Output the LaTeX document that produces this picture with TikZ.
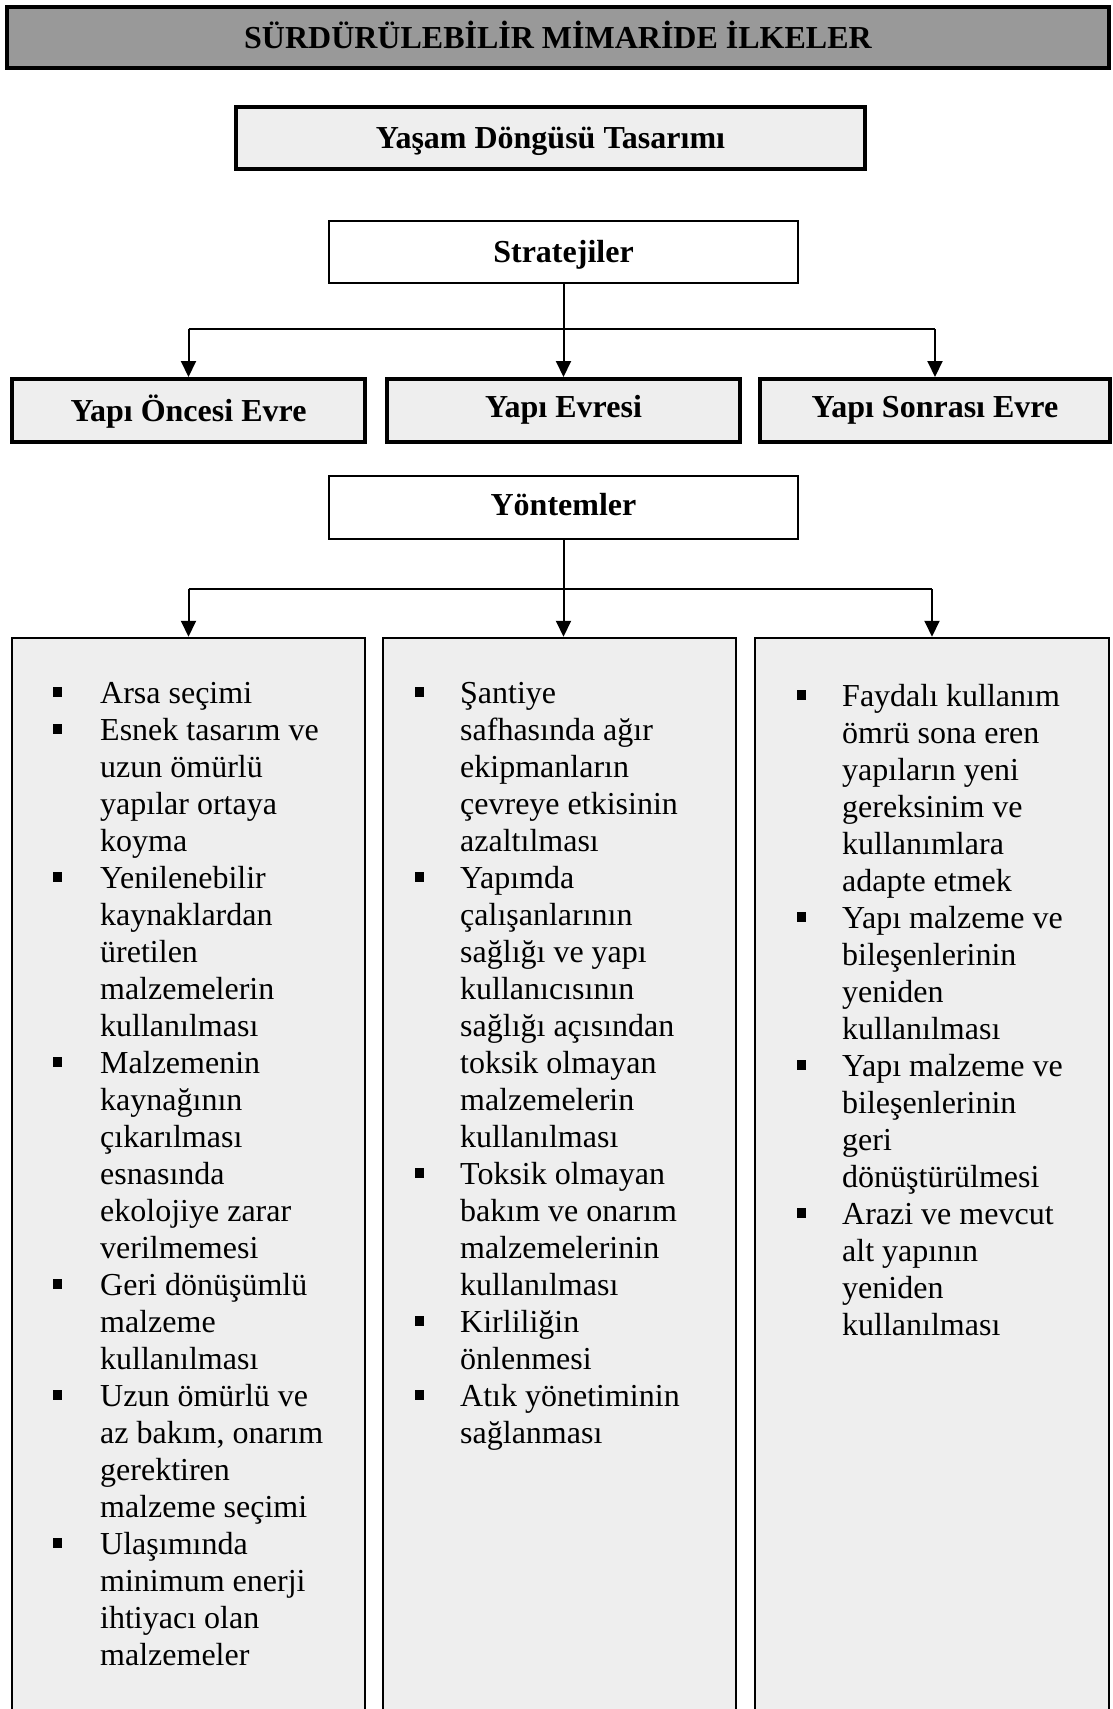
\documentclass[tikz,border=0pt]{standalone}
\usepackage{fontspec}
\setmainfont{Liberation Serif}
\usetikzlibrary{arrows.meta}
\definecolor{titlegray}{HTML}{999999}
\definecolor{lightbox}{HTML}{EEEEEE}
\newcommand\bulletmark{\rule[6pt]{9pt}{10pt}}
\tikzset{
  hbox/.style={draw=black, rectangle, inner sep=0pt, text height=21pt, text depth=0pt,
    font=\fontsize{32}{37}\selectfont\bfseries},
  thickbox/.style={hbox, line width=4pt, fill=lightbox},
  thinbox/.style={hbox, line width=2pt, fill=white},
  colbox/.style={draw=black, rectangle, line width=2.5pt, fill=lightbox, inner sep=0pt},
  listtext/.style={inner sep=0pt, anchor=base west, font=\fontsize{32}{37}\selectfont},
  plain/.style={line width=2pt, draw=black},
  conn/.style={plain, -{Triangle[width=15pt,length=16pt]}},
}
\begin{document}
\begin{tikzpicture}[x=1pt,y=-1pt]
\useasboundingbox (0,0) rectangle (1112,1709);
\clip (0,0) rectangle (1112,1709);
% title
\node[hbox, line width=4pt, fill=titlegray, minimum width=1102pt, minimum height=61pt] (title) at (558,37.5) {SÜRDÜRÜLEBİLİR MİMARİDE İLKELER};
\node[thickbox, minimum width=629pt, minimum height=62pt, yshift=2pt] (life) at (550.5,140) {Yaşam Döngüsü Tasarımı};
% strategies
\node[thinbox, minimum width=469pt, minimum height=62pt] (strat) at (563.5,252) {Stratejiler};
\node[thickbox, minimum width=353pt, minimum height=63pt] (p1) at (188.5,410.5) {Yapı Öncesi Evre};
\node[thickbox, minimum width=353pt, minimum height=63pt, text height=13pt] (p2) at (563.5,410.5) {Yapı Evresi};
\node[thickbox, minimum width=350pt, minimum height=63pt, text height=13pt] (p3) at (935,410.5) {Yapı Sonrası Evre};
\coordinate (busA) at (561,329);
\draw[plain] (p1.north |- busA) -- (p3.north |- busA);
\draw[conn] (strat.south) -- (p2.north);
\draw[conn] (p1.north |- busA) -- (p1.north);
\draw[conn] (p3.north |- busA) -- (p3.north);
% methods
\node[thinbox, minimum width=469pt, minimum height=63pt, text height=16pt] (meth) at (563.5,507.5) {Yöntemler};
\node[colbox, minimum width=353pt, minimum height=1082pt] (m1) at (188.5,1179) {};
\node[colbox, minimum width=353pt, minimum height=1082pt] (m2) at (559.5,1179) {};
\node[colbox, minimum width=354pt, minimum height=1082pt] (m3) at (932,1179) {};
\coordinate (busB) at (561,589);
\draw[plain] (m1.north |- busB) -- (m3.north |- busB);
\draw[conn] (meth.south) -- (meth.south |- m2.north);
\draw[conn] (m1.north |- busB) -- (m1.north);
\draw[conn] (m3.north |- busB) -- (m3.north);
% lists
\node[listtext] (l1) at (53,703) {\begin{tabular}[t]{@{}p{47pt}@{}l@{}}
\bulletmark & Arsa seçimi\\
\bulletmark & Esnek tasarım ve\\
 & uzun ömürlü\\
 & yapılar ortaya\\
 & koyma\\
\bulletmark & Yenilenebilir\\
 & kaynaklardan\\
 & üretilen\\
 & malzemelerin\\
 & kullanılması\\
\bulletmark & Malzemenin\\
 & kaynağının\\
 & çıkarılması\\
 & esnasında\\
 & ekolojiye zarar\\
 & verilmemesi\\
\bulletmark & Geri dönüşümlü\\
 & malzeme\\
 & kullanılması\\
\bulletmark & Uzun ömürlü ve\\
 & az bakım, onarım\\
 & gerektiren\\
 & malzeme seçimi\\
\bulletmark & Ulaşımında\\
 & minimum enerji\\
 & ihtiyacı olan\\
 & malzemeler
\end{tabular}};
\node[listtext] (l2) at (415,703) {\begin{tabular}[t]{@{}p{45pt}@{}l@{}}
\bulletmark & Şantiye\\
 & safhasında ağır\\
 & ekipmanların\\
 & çevreye etkisinin\\
 & azaltılması\\
\bulletmark & Yapımda\\
 & çalışanlarının\\
 & sağlığı ve yapı\\
 & kullanıcısının\\
 & sağlığı açısından\\
 & toksik olmayan\\
 & malzemelerin\\
 & kullanılması\\
\bulletmark & Toksik olmayan\\
 & bakım ve onarım\\
 & malzemelerinin\\
 & kullanılması\\
\bulletmark & Kirliliğin\\
 & önlenmesi\\
\bulletmark & Atık yönetiminin\\
 & sağlanması
\end{tabular}};
\node[listtext] (l3) at (797,706) {\begin{tabular}[t]{@{}p{45pt}@{}l@{}}
\bulletmark & Faydalı kullanım\\
 & ömrü sona eren\\
 & yapıların yeni\\
 & gereksinim ve\\
 & kullanımlara\\
 & adapte etmek\\
\bulletmark & Yapı malzeme ve\\
 & bileşenlerinin\\
 & yeniden\\
 & kullanılması\\
\bulletmark & Yapı malzeme ve\\
 & bileşenlerinin\\
 & geri\\
 & dönüştürülmesi\\
\bulletmark & Arazi ve mevcut\\
 & alt yapının\\
 & yeniden\\
 & kullanılması
\end{tabular}};
\end{tikzpicture}
\end{document}
